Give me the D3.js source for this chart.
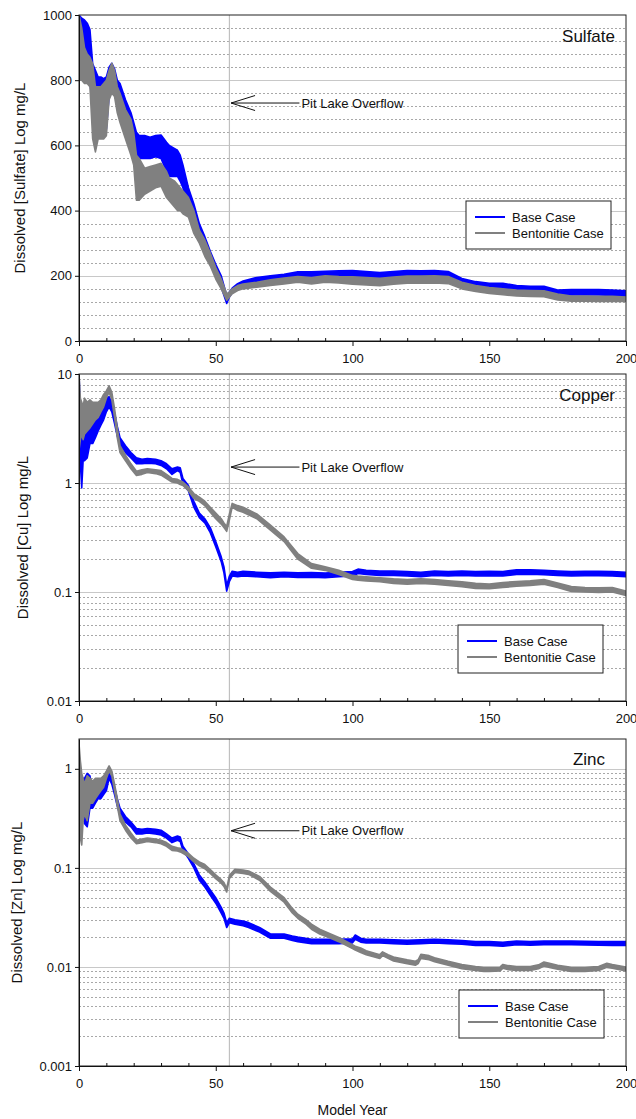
<!DOCTYPE html>
<html>
<head>
<meta charset="utf-8">
<script src="https://cdn.jsdelivr.net/npm/d3@7"></script>
<style>
  body { margin: 0; background: #fff; }
  svg { font-family: "Liberation Sans", Arial, sans-serif; }
</style>
</head>
<body>
<svg id="chart" width="636" height="1119"></svg>
<script>
const sulfateBase = [[0,900,1000],[1,840,990],[2,820,985],[3,800,975],[4,790,955],[5,730,850],[6,700,830],[7,660,810],[8,650,810],[9,645,805],[10,650,810],[11,750,840],[12,770,852],[13,760,835],[14,720,800],[15,700,790],[17,650,740],[19,600,700],[20,580,670],[21,565,640],[22,560,630],[24,560,630],[26,560,625],[28,565,630],[30,560,632],[32,520,610],[33,505,600],[35,505,590],[36,505,585],[37,490,570],[38,470,540],[40,410,470],[42,360,420],[44,330,360],[46,280,320],[48,240,275],[50,200,235],[52,165,200],[54,115,140],[55,135,150],[56,148,162],[58,160,176],[60,168,184],[65,177,195],[70,185,200],[75,188,205],[80,193,212],[85,194,212],[90,197,214],[95,197,215],[100,196,216],[105,194,213],[110,190,210],[115,194,213],[120,197,216],[125,197,215],[130,198,216],[135,192,213],[140,172,192],[145,165,182],[150,162,177],[155,161,177],[160,155,170],[165,152,168],[170,151,168],[175,138,156],[180,141,158],[185,142,158],[190,141,158],[195,140,156],[200,136,154]]
const sulfateBent = [[0,800,1000],[1,800,960],[2,790,900],[3,790,880],[4,780,870],[5,620,850],[6,580,780],[7,620,780],[8,620,780],[9,620,790],[10,630,800],[11,740,830],[12,760,852],[13,750,830],[14,700,780],[15,670,760],[17,620,710],[19,570,680],[20,540,640],[21,432,570],[22,432,560],[24,450,530],[26,460,535],[28,470,540],[30,475,545],[32,440,520],[33,430,500],[35,410,490],[36,400,480],[37,400,470],[38,390,460],[40,380,440],[42,330,400],[44,300,340],[46,260,310],[48,230,270],[50,190,225],[52,160,190],[54,125,145],[55,135,150],[56,145,160],[58,155,170],[60,160,175],[65,165,180],[70,170,188],[75,175,193],[80,180,198],[85,175,195],[90,180,200],[95,178,198],[100,174,197],[105,172,195],[110,170,192],[115,174,196],[120,177,199],[125,177,199],[130,178,200],[135,176,198],[140,160,180],[145,152,170],[150,146,164],[155,142,160],[160,138,156],[165,137,155],[170,136,154],[175,126,144],[180,122,138],[185,122,138],[190,121,137],[195,122,137],[200,121,135]]

const copperBase = [[0,2.0,10],[0.5,1.5,4.5],[1,0.9,4],[1.5,1.6,4.2],[2,1.6,4],[3,1.7,3.8],[4,2.3,4],[5,2.3,4],[6,2.6,4.2],[7,3.0,4.5],[8,3.4,4.6],[9,3.8,5],[10,4.5,6],[11,5,6.2],[12,4.5,5.5],[13,3.5,4.4],[14,2.7,3.3],[15,2.2,2.6],[17,1.9,2.2],[19,1.7,1.9],[21,1.5,1.7],[23,1.5,1.65],[25,1.52,1.68],[28,1.5,1.65],[30,1.45,1.6],[32,1.35,1.5],[34,1.2,1.35],[36,1.3,1.4],[37,1.25,1.38],[38,0.98,1.1],[40,0.85,0.95],[42,0.6,0.68],[44,0.48,0.53],[46,0.43,0.47],[48,0.35,0.39],[50,0.26,0.29],[52,0.19,0.21],[53,0.15,0.17],[54,0.102,0.115],[55,0.125,0.14],[56,0.14,0.155],[58,0.138,0.152],[60,0.14,0.155],[65,0.138,0.152],[70,0.135,0.15],[75,0.138,0.152],[80,0.136,0.15],[85,0.137,0.151],[90,0.135,0.149],[95,0.138,0.152],[100,0.14,0.154],[102,0.148,0.162],[105,0.145,0.158],[110,0.142,0.156],[115,0.142,0.156],[120,0.14,0.154],[125,0.138,0.152],[130,0.142,0.156],[135,0.14,0.154],[140,0.142,0.156],[145,0.14,0.154],[150,0.141,0.155],[155,0.14,0.154],[160,0.145,0.16],[165,0.146,0.16],[170,0.144,0.158],[175,0.142,0.156],[180,0.14,0.154],[185,0.141,0.155],[190,0.141,0.155],[195,0.14,0.154],[200,0.138,0.152]]
const copperBent = [[0,2,10],[0.5,2.5,6],[1,2.8,5.5],[1.5,2.5,5],[2,2.8,6],[3,3,5.5],[4,3.2,5.8],[5,3.5,5.5],[6,3.8,5.5],[7,4,5.5],[8,4.5,5.8],[9,5,6.5],[10,6,7],[11,6.8,7.8],[12,5.8,6.8],[13,4.0,4.8],[14,2.6,3.2],[15,1.9,2.2],[17,1.6,1.8],[19,1.35,1.5],[21,1.17,1.28],[23,1.2,1.32],[25,1.25,1.35],[28,1.22,1.32],[30,1.18,1.3],[32,1.1,1.2],[34,1.02,1.1],[36,1.0,1.08],[37,0.97,1.05],[38,0.95,1.02],[40,0.85,0.92],[42,0.72,0.8],[44,0.68,0.74],[46,0.62,0.68],[48,0.54,0.6],[50,0.47,0.53],[52,0.42,0.47],[53,0.39,0.43],[54,0.36,0.4],[55,0.46,0.52],[56,0.6,0.65],[58,0.56,0.62],[60,0.54,0.6],[65,0.47,0.52],[70,0.37,0.41],[75,0.29,0.32],[80,0.2,0.225],[85,0.165,0.182],[90,0.158,0.17],[95,0.145,0.158],[100,0.13,0.142],[102,0.128,0.14],[105,0.126,0.138],[110,0.124,0.135],[115,0.12,0.132],[120,0.118,0.13],[125,0.12,0.132],[130,0.118,0.13],[135,0.115,0.127],[140,0.112,0.124],[145,0.108,0.12],[150,0.107,0.118],[155,0.11,0.122],[160,0.113,0.125],[165,0.115,0.127],[170,0.118,0.13],[175,0.11,0.121],[180,0.101,0.112],[185,0.1,0.11],[190,0.099,0.109],[195,0.1,0.11],[200,0.093,0.102]]

const zincBase = [[0,0.4,1.0],[0.5,0.3,0.9],[1,0.3,0.75],[1.5,0.4,0.8],[2,0.28,0.8],[3,0.26,0.9],[4,0.4,0.85],[5,0.4,0.6],[6,0.45,0.65],[7,0.5,0.7],[8,0.5,0.65],[9,0.55,0.7],[10,0.6,0.8],[11,0.8,0.92],[12,0.7,0.85],[13,0.55,0.65],[14,0.42,0.5],[15,0.34,0.4],[17,0.29,0.33],[19,0.26,0.29],[21,0.22,0.25],[23,0.22,0.245],[25,0.225,0.25],[28,0.22,0.245],[30,0.215,0.24],[32,0.2,0.22],[34,0.18,0.2],[36,0.19,0.21],[37,0.185,0.205],[38,0.15,0.165],[40,0.125,0.138],[42,0.1,0.11],[44,0.075,0.085],[46,0.064,0.072],[48,0.053,0.06],[50,0.044,0.05],[52,0.035,0.04],[53,0.031,0.035],[54,0.025,0.028],[55,0.028,0.031],[57,0.027,0.03],[60,0.026,0.029],[62,0.025,0.028],[66,0.0225,0.025],[70,0.0195,0.0215],[75,0.0195,0.0215],[78,0.0185,0.0205],[80,0.018,0.02],[85,0.0172,0.019],[90,0.0172,0.019],[95,0.0172,0.019],[100,0.0175,0.0192],[101,0.019,0.021],[103,0.0178,0.0195],[105,0.0175,0.019],[110,0.0175,0.019],[115,0.0172,0.0188],[120,0.017,0.0186],[125,0.0172,0.0188],[130,0.0175,0.019],[135,0.0172,0.0188],[140,0.017,0.0185],[145,0.0165,0.018],[150,0.0165,0.018],[155,0.0162,0.0177],[160,0.0168,0.0183],[165,0.0166,0.018],[170,0.0168,0.0183],[175,0.0168,0.0183],[180,0.0168,0.0183],[185,0.0167,0.0182],[190,0.0166,0.018],[195,0.0165,0.018],[200,0.0165,0.018]]
const zincBent = [[0,0.4,1.8],[0.5,0.2,1.2],[1,0.17,0.9],[1.5,0.3,0.8],[2,0.35,0.7],[3,0.3,0.85],[4,0.45,0.8],[5,0.45,0.75],[6,0.5,0.8],[7,0.55,0.8],[8,0.6,0.8],[9,0.65,0.85],[10,0.8,0.95],[11,0.95,1.07],[12,0.85,0.95],[13,0.6,0.7],[14,0.42,0.5],[15,0.3,0.35],[17,0.24,0.27],[19,0.2,0.225],[21,0.175,0.19],[23,0.18,0.195],[25,0.185,0.2],[28,0.18,0.195],[30,0.175,0.19],[32,0.165,0.18],[34,0.15,0.165],[36,0.148,0.16],[37,0.145,0.158],[38,0.14,0.152],[40,0.13,0.14],[42,0.115,0.125],[44,0.105,0.115],[46,0.098,0.108],[48,0.088,0.096],[50,0.078,0.085],[52,0.07,0.076],[53,0.065,0.071],[54,0.057,0.062],[55,0.078,0.084],[57,0.09,0.097],[60,0.088,0.095],[62,0.086,0.093],[66,0.075,0.082],[70,0.058,0.064],[75,0.045,0.05],[78,0.035,0.039],[80,0.031,0.034],[83,0.027,0.03],[85,0.024,0.027],[88,0.0215,0.024],[92,0.0195,0.0215],[95,0.018,0.0198],[100,0.0153,0.0168],[101,0.0148,0.0162],[103,0.014,0.0155],[105,0.0133,0.0146],[110,0.0122,0.0133],[111,0.013,0.0142],[113,0.0122,0.0133],[115,0.0115,0.0126],[120,0.0108,0.0118],[123,0.0104,0.0114],[124,0.0108,0.0118],[125,0.0122,0.0134],[128,0.0118,0.013],[130,0.0113,0.0124],[135,0.0104,0.0114],[140,0.0096,0.0106],[145,0.0092,0.0101],[148,0.009,0.0099],[150,0.009,0.0099],[154,0.0091,0.01],[155,0.0097,0.0106],[157,0.0094,0.0103],[160,0.0092,0.0101],[165,0.0092,0.0101],[168,0.0096,0.0105],[170,0.0102,0.0112],[172,0.0099,0.0109],[175,0.0095,0.0104],[180,0.009,0.0099],[185,0.009,0.0099],[190,0.0092,0.0101],[193,0.0099,0.0109],[195,0.0097,0.0106],[200,0.0091,0.01]]

const seriesNames = ["Base Case", "Bentonitie Case"]
const seriesColors = ["#0000ff", "#808080"]
const xTicks = [0, 50, 100, 150, 200]
const sulfateTicks = [0, 200, 400, 600, 800, 1000]
const copperTicks = [0.01, 0.1, 1, 10]
const zincTicks = [0.001, 0.01, 0.1, 1]
const overflowYear = 55
const overflowText = "Pit Lake Overflow"
// arrow from tip year to tail year, at a value per panel
const arrowYears = [55.6, 80.6]

const panels = [
  { title: "Sulfate", ylabel: "Dissolved [Sulfate] Log mg/L", series: [sulfateBase, sulfateBent],
    log: false, domain: [0, 1000], ticks: sulfateTicks, arrowValue: 730,
    top: 15, bottom: 341, labelX: 20, titleX: 615, titleY: 42, legendTop: 201, legendLeft: 466 },
  { title: "Copper", ylabel: "Dissolved [Cu] Log mg/L", series: [copperBase, copperBent],
    log: true, domain: [0.01, 10], ticks: copperTicks, arrowValue: 1.4,
    top: 374, bottom: 701, labelX: 23, titleX: 615, titleY: 401, legendTop: 625, legendLeft: 458 },
  { title: "Zinc", ylabel: "Dissolved [Zn] Log mg/L", series: [zincBase, zincBent],
    log: true, domain: [0.001, 2], ticks: zincTicks, arrowValue: 0.237,
    top: 739, bottom: 1066, labelX: 17, titleX: 605, titleY: 765, legendTop: 990, legendLeft: 459 }
]

const svg = d3.select("#chart")
const left = 79, right = 626

const x = d3.scaleLinear().domain([0, 200]).range([left, right])

function minorValues(p) {
  if (!p.log) return d3.range(40, 1000, 40).filter(v => v % 200 !== 0)
  const out = []
  for (let e = Math.floor(Math.log10(p.domain[0])); e < Math.ceil(Math.log10(p.domain[1])); e++) {
    for (let k = 2; k <= 9; k++) {
      const v = k * Math.pow(10, e)
      if (v > p.domain[0] && v < p.domain[1]) out.push(v)
    }
  }
  return out
}

panels.forEach((p, i) => {
  const y = (p.log ? d3.scaleLog() : d3.scaleLinear())
    .domain(p.domain)
    .range([p.bottom, p.top])

  const g = svg.append("g")

  g.append("clipPath").attr("id", "clip" + i)
    .append("rect")
    .attr("x", left).attr("y", p.top)
    .attr("width", right - left).attr("height", p.bottom - p.top)

  // minor dotted grid
  g.append("g").selectAll("line")
    .data(minorValues(p))
    .join("line")
    .attr("x1", left).attr("x2", right)
    .attr("y1", d => Math.round(y(d)) + 0.5).attr("y2", d => Math.round(y(d)) + 0.5)
    .attr("stroke", "#a8a8a8")
    .attr("stroke-width", 1)
    .attr("stroke-dasharray", "2,2")

  // major grid
  g.append("g").selectAll("line")
    .data(p.ticks.filter(v => v !== p.domain[0] && v !== p.domain[1]))
    .join("line")
    .attr("x1", left).attr("x2", right)
    .attr("y1", d => Math.round(y(d)) + 0.5).attr("y2", d => Math.round(y(d)) + 0.5)
    .attr("stroke", "#c8c8c8")
    .attr("stroke-width", 1.2)

  // overflow marker
  g.append("line")
    .attr("x1", x(overflowYear)).attr("x2", x(overflowYear))
    .attr("y1", p.top).attr("y2", p.bottom)
    .attr("stroke", "#c0c0c0")
    .attr("stroke-width", 1.2)

  const band = d3.area()
    .x(d => x(d[0]))
    .y0(d => y(d[1]))
    .y1(d => y(d[2]))

  const plot = g.append("g").attr("clip-path", `url(#clip${i})`)
  p.series.forEach((s, j) => {
    plot.append("path")
      .datum(s)
      .attr("fill", seriesColors[j])
      .attr("stroke", seriesColors[j])
      .attr("stroke-width", 1.6)
      .attr("stroke-linejoin", "round")
      .attr("d", band)
  })

  // frame
  g.append("rect")
    .attr("x", left).attr("y", p.top)
    .attr("width", right - left).attr("height", p.bottom - p.top)
    .attr("fill", "none")
    .attr("stroke", "#222")
    .attr("stroke-width", 1)

  // y axis
  g.append("g")
    .attr("transform", `translate(${left},0)`)
    .call(d3.axisLeft(y).tickValues(p.ticks).tickFormat(d3.format("~g")).tickSize(4).tickPadding(3).tickSizeOuter(0))
    .call(g => g.selectAll("text").attr("font-size", 13).attr("fill", "#111"))
    .call(g => g.selectAll("line, path").attr("stroke", "#111"))

  // x axis, major ticks outside, minor ticks inside
  g.append("g")
    .attr("transform", `translate(0,${p.bottom})`)
    .call(d3.axisBottom(x).tickValues(d3.range(10, 200, 10).filter(v => v % 50 !== 0)).tickFormat("").tickSize(-3).tickSizeOuter(0))
    .call(g => g.select(".domain").remove())
    .call(g => g.selectAll("line").attr("stroke", "#111"))

  g.append("g")
    .attr("transform", `translate(0,${p.bottom})`)
    .call(d3.axisBottom(x).tickValues(xTicks).tickSize(5).tickSizeOuter(0))
    .call(g => g.selectAll("line, path").attr("stroke", "#111"))
    .call(g => g.selectAll(".tick text").attr("y", 22).attr("dy", null).attr("font-size", 13).attr("fill", "#111"))

  // y label
  g.append("text")
    .attr("transform", `translate(${p.labelX},${(p.top + p.bottom) / 2}) rotate(-90)`)
    .attr("text-anchor", "middle")
    .attr("dy", "0.35em")
    .attr("font-size", 15)
    .attr("fill", "#111")
    .text(p.ylabel)

  // title
  g.append("text")
    .attr("x", p.titleX).attr("y", p.titleY)
    .attr("text-anchor", "end")
    .attr("font-size", 17)
    .attr("fill", "#111")
    .text(p.title)

  // overflow arrow
  const ay = y(p.arrowValue)
  const tip = x(arrowYears[0]), tail = x(arrowYears[1])
  g.append("path")
    .attr("d", `M${tail},${ay}H${tip}M${tip + 24},${ay - 7.5}L${tip},${ay}L${tip + 24},${ay + 7.5}`)
    .attr("fill", "none")
    .attr("stroke", "#111")
    .attr("stroke-width", 1)
  g.append("text")
    .attr("x", tail + 2).attr("y", ay + 4.5)
    .attr("font-size", 13)
    .attr("fill", "#111")
    .text(overflowText)

  // legend
  const lg = g.append("g").attr("transform", `translate(${p.legendLeft},${p.legendTop})`)
  lg.append("rect")
    .attr("width", 145).attr("height", 48)
    .attr("fill", "#fff")
    .attr("stroke", "#222")
    .attr("stroke-width", 1)
  seriesNames.forEach((name, j) => {
    lg.append("line")
      .attr("x1", 9).attr("x2", 39)
      .attr("y1", 16 + j * 16).attr("y2", 16 + j * 16)
      .attr("stroke", seriesColors[j])
      .attr("stroke-width", 2)
    lg.append("text")
      .attr("x", 46).attr("y", 21 + j * 16)
      .attr("font-size", 13)
      .attr("fill", "#111")
      .text(name)
  })
})

svg.append("text")
  .attr("x", (left + right) / 2).attr("y", 1115)
  .attr("text-anchor", "middle")
  .attr("font-size", 14)
  .attr("fill", "#111")
  .text("Model Year")
</script>
</body>
</html>
